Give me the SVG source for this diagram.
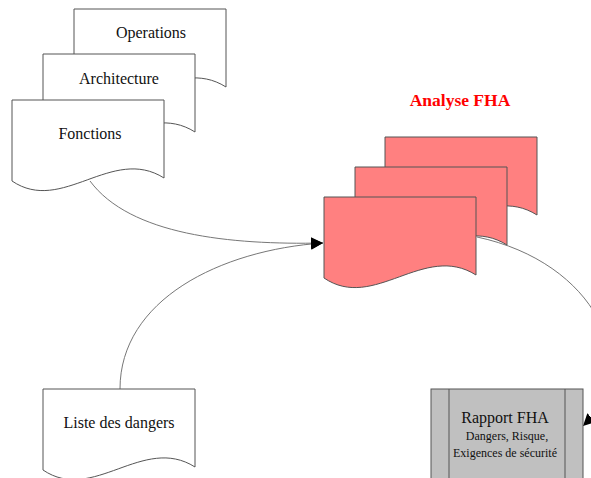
<svg xmlns="http://www.w3.org/2000/svg" width="591" height="478" viewBox="0 0 591 478">
<style>
.doc{stroke:#555;stroke-width:1}
.white{fill:#fff}
.red{fill:#ff8080}
text{font-family:'Liberation Serif','DejaVu Serif',serif}
.t{font-size:16px;fill:#111;text-anchor:middle}
.s{font-size:12px}
.conn{fill:none;stroke:#777;stroke-width:1}
</style>
<defs>
<path id="docshape" d="M0,0 H152 V78 C100,45 50,115 0,81 Z"/>
<marker id="arr" markerUnits="userSpaceOnUse" markerWidth="14" markerHeight="12" refX="12" refY="6" orient="auto">
<path d="M0,0 L12,6 L0,12 Z" fill="#000"/>
</marker>
</defs>
<rect width="591" height="478" fill="#fff"/>
<g id="connectors">
<path class="conn" d="M90,181 C130,235 230,245 323,243" marker-end="url(#arr)"/>
<path class="conn" d="M120,389 C120,300 220,250 323,243" marker-end="url(#arr)"/>
<path class="conn" d="M477,237 C595,262 645,365 583,426" marker-end="url(#arr)"/>
</g>
<g id="operations">
<use href="#docshape" class="doc white" transform="translate(74,9)"/>
<text class="t" x="151" y="38" font-family="Liberation Serif, serif">Operations</text>
</g>
<g id="architecture">
<use href="#docshape" class="doc white" transform="translate(43,54)"/>
<text class="t" x="119" y="84" font-family="Liberation Serif, serif">Architecture</text>
</g>
<g id="fonctions">
<use href="#docshape" class="doc white" transform="translate(12,100)"/>
<text class="t" x="90" y="139" font-family="Liberation Serif, serif">Fonctions</text>
</g>
<g id="analyse-title">
<text x="460" y="106" font-family="Liberation Serif, serif" font-size="17.5" font-weight="bold" fill="#ff0000" text-anchor="middle">Analyse FHA</text>
</g>
<g id="fha-back">
<use href="#docshape" class="doc red" transform="translate(385,137)"/>
</g>
<g id="fha-middle">
<use href="#docshape" class="doc red" transform="translate(355,167)"/>
</g>
<g id="fha-front">
<use href="#docshape" class="doc red" transform="translate(324,197)"/>
</g>
<g id="liste-dangers">
<use href="#docshape" class="doc white" transform="translate(43,389)"/>
<text class="t" x="119" y="428" font-family="Liberation Serif, serif">Liste des dangers</text>
</g>
<g id="rapport-fha">
<rect x="431" y="389" width="152" height="100" fill="#c0c0c0" stroke="#555"/>
<line x1="449" y1="389" x2="449" y2="489" stroke="#555"/>
<line x1="565" y1="389" x2="565" y2="489" stroke="#555"/>
<text class="t" x="505" y="423" font-family="Liberation Serif, serif">Rapport FHA</text>
<text class="t s" x="507" y="440" font-family="Liberation Serif, serif">Dangers, Risque,</text>
<text class="t s" x="505" y="457" font-family="Liberation Serif, serif">Exigences de sécurité</text>
</g>
</svg>
